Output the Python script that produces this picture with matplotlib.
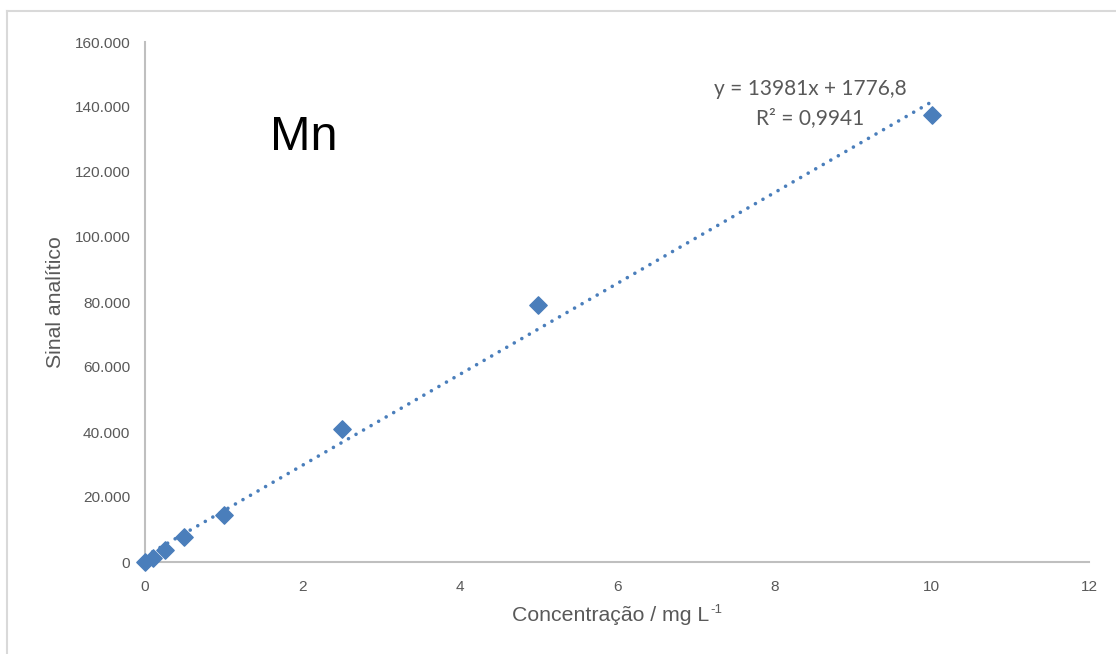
import matplotlib
matplotlib.use("Agg")
import matplotlib.pyplot as plt
from matplotlib.lines import Line2D
from matplotlib.ticker import FuncFormatter

conc = [0, 0.1, 0.25, 0.5, 1, 2.5, 5, 10]
signal = [0, 1200, 3700, 7700, 14500, 40800, 79100, 137500]
slope = 13981
intercept = 1776.8
eq_text = "y = 13981x + 1776,8"
r2_text = "R² = 0,9941"
x_ticks = [0, 2, 4, 6, 8, 10, 12]
y_ticks = [0, 20000, 40000, 60000, 80000, 100000, 120000, 140000, 160000]

W, H = 1116, 654
fig = plt.figure(figsize=(W / 100, H / 100), dpi=100)
fig.patch.set_facecolor("white")
ax = fig.add_axes([145 / W, 1 - 562 / H, (1089 - 145) / W, (562 - 42) / H])

blue = "#4A7EBB"
grey = "#595959"
tx = [0, 10]
ty = [intercept + slope * v for v in tx]
ax.plot(tx, ty, linestyle=(0, (0.01, 2.4)), color=blue, lw=2.6, dash_capstyle="round",
        solid_capstyle="round", zorder=2)
ax.scatter(conc, signal, marker="D", s=78, color=blue, edgecolors=blue, zorder=3, clip_on=False)

ax.set_xlim(0, 12)
ax.set_ylim(0, 160000)
ax.set_xticks(x_ticks)
ax.set_yticks(y_ticks)
ax.yaxis.set_major_formatter(FuncFormatter(lambda v, p: f"{int(v):,}".replace(",", ".")))
ax.tick_params(length=0, labelsize=11.1, colors=grey)
ax.tick_params(axis="x", pad=13)
ax.tick_params(axis="y", pad=10.5)
for lab in ax.get_xticklabels() + ax.get_yticklabels():
    lab.set_family("Liberation Sans")
for s in ["top", "right"]:
    ax.spines[s].set_visible(False)
for s in ["left", "bottom"]:
    ax.spines[s].set_color("#BFBFBF")
    ax.spines[s].set_linewidth(1.5)

ax.set_ylabel("Sinal analítico", fontsize=15.3, color=grey, family="Liberation Sans")
ax.yaxis.set_label_coords((65 - 145) / (1089 - 145), 0.5)

xl = fig.text(512 / W, 1 - 621 / H, "Concentração / mg L", fontsize=15.3, color=grey,
              family="Liberation Sans", ha="left", va="baseline")

fig.text(270 / W, 1 - 138 / H, "Mn", fontsize=35, color="black", family="Liberation Sans", va="center", ha="left")
fig.text(810 / W, 1 - 89 / H, eq_text, fontsize=15, color=grey, family="Lato", ha="center", va="center")
fig.text(810 / W, 1 - 118 / H, r2_text, fontsize=15, color=grey, family="Lato", ha="center", va="center")

fig.add_artist(Line2D([7 / W, 1], [1 - 11 / H, 1 - 11 / H], transform=fig.transFigure, color="#D9D9D9", lw=1.5))
fig.add_artist(Line2D([7 / W, 7 / W], [0, 1 - 11 / H], transform=fig.transFigure, color="#D9D9D9", lw=1.5))

fig.canvas.draw()
bb = xl.get_window_extent(renderer=fig.canvas.get_renderer())
fig.text((bb.x1 + 1.5) / W, 1 - 613 / H, "-1", fontsize=9.5, color=grey,
         family="Liberation Sans", ha="left", va="baseline")

fig.savefig("out.png", dpi=100, facecolor="white")
